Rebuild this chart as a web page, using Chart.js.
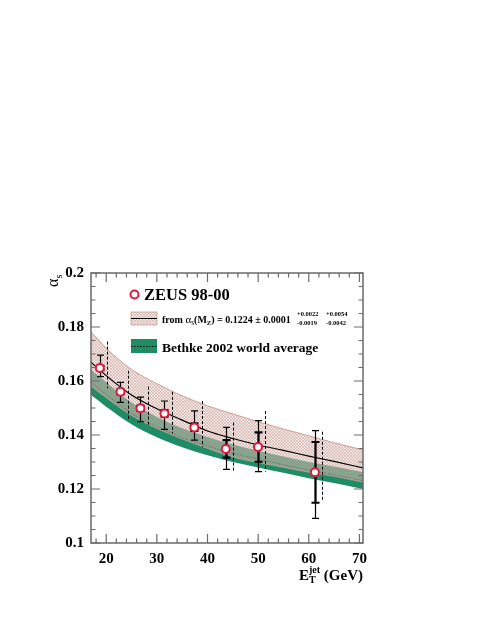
<!DOCTYPE html>
<html><head><meta charset="utf-8">
<script src="https://cdn.jsdelivr.net/npm/chart.js@4.4.1/dist/chart.umd.min.js"></script>
<style>html,body{margin:0;padding:0;background:#fff;overflow:hidden}#wrap{width:491px;height:635px;position:relative}</style>
</head><body><div id="wrap"><canvas id="c" width="491" height="635"></canvas></div>
<script>
// ---- data ----
const eT      = [18.74, 22.82, 26.76, 31.5, 37.4, 43.6, 49.97, 61.2];
const alphaS  = [0.1648, 0.1560, 0.1499, 0.1480, 0.1428, 0.1348, 0.1356, 0.1262];
const statHi  = [0.1656, 0.1569, 0.1509, 0.1492, 0.1443, 0.1381, 0.1410, 0.1374];
const statLo  = [0.1640, 0.1551, 0.1489, 0.1468, 0.1415, 0.1316, 0.1301, 0.1149];
const totHi   = [0.1696, 0.1595, 0.1540, 0.1526, 0.1489, 0.1428, 0.1453, 0.1416];
const totLo   = [0.1616, 0.1521, 0.1449, 0.1421, 0.1381, 0.1273, 0.1264, 0.1091];
const theoE   = [20.2, 24.27, 28.2, 32.9, 38.9, 45.0, 51.4, 62.7];
const theoHi  = [0.1746, 0.1638, 0.1579, 0.1560, 0.1526, 0.1446, 0.1489, 0.1412];
const theoLo  = [0.1573, 0.1456, 0.1433, 0.1406, 0.1357, 0.1264, 0.1264, 0.1156];

const curveE        = [17, 20, 25, 30, 35, 40, 45, 50, 55, 60, 65, 70.7];
const zeusCentral   = [0.1670, 0.1620, 0.1548, 0.1497, 0.1455, 0.1415, 0.1387, 0.1363, 0.1343, 0.1322, 0.1302, 0.1278];
const zeusUpper     = [0.1783, 0.1722, 0.1643, 0.1590, 0.1545, 0.1508, 0.1478, 0.1449, 0.1422, 0.1397, 0.1371, 0.1345];
const zeusLower     = [0.1580, 0.1538, 0.1472, 0.1424, 0.1385, 0.1350, 0.1318, 0.1298, 0.1280, 0.1262, 0.1247, 0.1225];
const bethkeCentral = [0.1596, 0.1550, 0.1480, 0.1430, 0.1390, 0.1359, 0.1333, 0.1311, 0.1290, 0.1270, 0.1252, 0.1231];
const bethkeUpper   = [0.1643, 0.1595, 0.1520, 0.1467, 0.1425, 0.1393, 0.1365, 0.1342, 0.1320, 0.1300, 0.1283, 0.1262];
const bethkeLower   = [0.1548, 0.1505, 0.1440, 0.1392, 0.1355, 0.1325, 0.1300, 0.1280, 0.1260, 0.1240, 0.1222, 0.1200];

const xTickValues = [20, 30, 40, 50, 60, 70];
const yTickValues = [0.1, 0.12, 0.14, 0.16, 0.18, 0.2];
const yTickLabels = ['0.1', '0.12', '0.14', '0.16', '0.18', '0.2'];

const legendZeus   = 'ZEUS 98-00';
const legendBethke = 'Bethke 2002 world average';

// ---- styles ----
const SERIF = '"Liberation Serif", "DejaVu Serif", serif';
const GREEN = 'rgb(30,140,100)';
const RED = '#e3173e';
const FRAME = '#6a6a6a';

function hatchPattern() {
  const c = document.createElement('canvas');
  c.width = 3; c.height = 3;
  const g = c.getContext('2d');
  g.fillStyle = 'rgba(232,208,202,0.5)';
  g.fillRect(0, 0, 3, 3);
  g.strokeStyle = 'rgba(172,110,100,0.45)';
  g.lineWidth = 0.6;
  g.beginPath();
  g.moveTo(0, 3); g.lineTo(3, 0);
  g.moveTo(-1.5, 1.5); g.lineTo(1.5, -1.5);
  g.moveTo(1.5, 4.5); g.lineTo(4.5, 1.5);
  g.moveTo(0, 0); g.lineTo(3, 3);
  g.moveTo(-1.5, 1.5); g.lineTo(1.5, 4.5);
  g.moveTo(1.5, -1.5); g.lineTo(4.5, 1.5);
  g.stroke();
  return g.createPattern(c, 'repeat');
}
const HATCH = hatchPattern();

const pts = (ys) => curveE.map((x, i) => ({x, y: ys[i]}));
const curveStyle = {pointRadius: 0, cubicInterpolationMode: 'monotone', fill: false};

const decor = {
  id: 'decor',
  beforeDatasetDraw(chart, args) {
    if (args.index !== 0) return;
    const ctx = chart.ctx, xs = chart.scales.x, ys = chart.scales.y;
    ctx.save();
    ctx.strokeStyle = '#000';
    ctx.lineWidth = 1;
    ctx.setLineDash([3, 2]);
    theoE.forEach((e, i) => {
      const x = Math.round(xs.getPixelForValue(e)) + 0.5;
      ctx.beginPath();
      ctx.moveTo(x, ys.getPixelForValue(theoHi[i]));
      ctx.lineTo(x, ys.getPixelForValue(theoLo[i]));
      ctx.stroke();
    });
    ctx.setLineDash([]);
    eT.forEach((e, i) => {
      const x = Math.round(xs.getPixelForValue(e)) + 0.5;
      const yh = ys.getPixelForValue(totHi[i]), yl = ys.getPixelForValue(totLo[i]);
      ctx.lineWidth = 1.2;
      ctx.beginPath();
      ctx.moveTo(x, yh); ctx.lineTo(x, yl);
      ctx.moveTo(x - 3.5, yh); ctx.lineTo(x + 3.5, yh);
      ctx.moveTo(x - 3.5, yl); ctx.lineTo(x + 3.5, yl);
      ctx.stroke();
      const sh = ys.getPixelForValue(statHi[i]), sl = ys.getPixelForValue(statLo[i]);
      ctx.lineWidth = 2.2;
      ctx.beginPath();
      ctx.moveTo(x, sh); ctx.lineTo(x, sl);
      ctx.moveTo(x - 4, sh); ctx.lineTo(x + 4, sh);
      ctx.moveTo(x - 4, sl); ctx.lineTo(x + 4, sl);
      ctx.stroke();
    });
    ctx.restore();
  },
  afterDraw(chart) {
    const ctx = chart.ctx, a = chart.chartArea, ys = chart.scales.y, xs = chart.scales.x;
    ctx.save();
    ctx.strokeStyle = FRAME;
    ctx.lineWidth = 1.5;
    ctx.strokeRect(a.left, a.top, a.right - a.left, a.bottom - a.top);
    ctx.lineWidth = 1.2;
    ctx.beginPath();
    for (let k = 0; k <= 20; k++) {
      const v = 0.1 + k * 0.005;
      const y = ys.getPixelForValue(v);
      const len = (k % 4 === 0) ? 9 : 4.5;
      ctx.moveTo(a.left, y); ctx.lineTo(a.left + len, y);
      ctx.moveTo(a.right, y); ctx.lineTo(a.right - len, y);
    }
    for (let v = 18; v <= 70; v += 2) {
      const x = xs.getPixelForValue(v);
      const len = (v % 10 === 0) ? 9 : 4.5;
      ctx.moveTo(x, a.bottom); ctx.lineTo(x, a.bottom - len);
      ctx.moveTo(x, a.top); ctx.lineTo(x, a.top + len);
    }
    ctx.stroke();

    ctx.fillStyle = '#000';
    ctx.textBaseline = 'alphabetic';
    // y title alpha_s (rotated)
    ctx.save();
    ctx.translate(58, 287);
    ctx.rotate(-Math.PI / 2);
    ctx.font = '16px ' + SERIF;
    ctx.textAlign = 'left';
    ctx.fillText('α', 0, 0);
    const aw = ctx.measureText('α').width;
    ctx.font = '10px ' + SERIF;
    ctx.fillText('s', aw, 4);
    ctx.restore();

    // x title E_T^jet (GeV)
    ctx.textAlign = 'left';
    const bigF = 'bold 15px ' + SERIF, smF = 'bold 10px ' + SERIF;
    ctx.font = bigF; const wE = ctx.measureText('E').width; const wG = ctx.measureText(' (GeV)').width;
    ctx.font = smF; const wJ = ctx.measureText('jet').width;
    let x0 = a.right - (wE + wJ + wG);
    const yb = 580;
    ctx.font = bigF; ctx.fillText('E', x0, yb);
    ctx.font = smF; ctx.fillText('jet', x0 + wE, yb - 7); ctx.fillText('T', x0 + wE, yb + 3);
    ctx.font = bigF; ctx.fillText(' (GeV)', x0 + wE + wJ, yb);

    // legend: ZEUS marker
    ctx.beginPath();
    ctx.arc(134.5, 294.5, 4, 0, Math.PI * 2);
    ctx.fillStyle = '#fff'; ctx.fill();
    ctx.strokeStyle = RED; ctx.lineWidth = 2; ctx.stroke();
    ctx.fillStyle = '#000';
    ctx.font = 'bold 16.5px ' + SERIF;
    ctx.fillText(legendZeus, 144, 300);

    // legend: ZEUS band
    ctx.fillStyle = '#fff'; ctx.fillRect(131, 312, 26, 13);
    ctx.fillStyle = HATCH; ctx.fillRect(131, 312, 26, 13);
    ctx.strokeStyle = 'rgba(205,160,150,1)'; ctx.lineWidth = 0.8;
    ctx.strokeRect(131, 312, 26, 13);
    ctx.strokeStyle = '#000'; ctx.lineWidth = 1;
    ctx.beginPath(); ctx.moveTo(131, 318.5); ctx.lineTo(157, 318.5); ctx.stroke();
    ctx.fillStyle = '#000';
    const f11 = 'bold 10px ' + SERIF, f7 = 'bold 6.5px ' + SERIF, sym11 = '11px ' + SERIF, sym7 = '7.5px ' + SERIF;
    let tx = 162; const tb = 322.5;
    const put = (s, font, dy) => { ctx.font = font; ctx.fillText(s, tx, tb + (dy || 0)); tx += ctx.measureText(s).width; };
    put('from ', f11); put('α', sym11); put('s', sym7, 2.5); put('(M', f11); put('Z', f7, 2.5); put(') = 0.1224 ± 0.0001', f11);
    ctx.font = f7;
    ctx.fillText('+0.0022', 297, 316); ctx.fillText('-0.0019', 297, 325);
    ctx.fillText('+0.0054', 326, 316); ctx.fillText('-0.0042', 326, 325);

    // legend: Bethke band
    ctx.fillStyle = GREEN; ctx.fillRect(131, 339, 26, 14);
    ctx.strokeStyle = '#000'; ctx.lineWidth = 1; ctx.setLineDash([1.5, 1.5]);
    ctx.beginPath(); ctx.moveTo(131, 346.5); ctx.lineTo(157, 346.5); ctx.stroke();
    ctx.setLineDash([]);
    ctx.fillStyle = '#000';
    ctx.font = 'bold 13.5px ' + SERIF;
    ctx.fillText(legendBethke, 162, 352);
    ctx.restore();
  }
};

new Chart(document.getElementById('c'), {
  type: 'line',
  data: {
    datasets: [
      {label: 'ZEUS 98-00', type: 'scatter', data: eT.map((x, i) => ({x, y: alphaS[i]})),
       pointRadius: 4, pointBorderWidth: 2, pointBorderColor: RED, pointBackgroundColor: '#fff', showLine: false},
      {label: 'ZEUS fit', data: pts(zeusCentral), borderColor: '#000', borderWidth: 1.2, ...curveStyle},
      {label: 'ZEUS upper', data: pts(zeusUpper), borderColor: 'rgba(205,160,150,1)', borderWidth: 1, ...curveStyle,
       fill: {target: 3}, backgroundColor: HATCH},
      {label: 'ZEUS lower', data: pts(zeusLower), borderColor: 'rgba(205,160,150,0.8)', borderWidth: 0.8, ...curveStyle},
      {label: 'Bethke', data: pts(bethkeCentral), borderColor: '#000', borderWidth: 1, borderDash: [1.5, 1.5], ...curveStyle},
      {label: 'Bethke upper', data: pts(bethkeUpper), borderColor: GREEN, borderWidth: 0, ...curveStyle,
       fill: {target: 6}, backgroundColor: GREEN},
      {label: 'Bethke lower', data: pts(bethkeLower), borderColor: GREEN, borderWidth: 0, ...curveStyle}
    ]
  },
  options: {
    responsive: false, animation: false, events: [],
    layout: {padding: {left: 0, right: 128, top: 273, bottom: 0}},
    plugins: {legend: {display: false}, tooltip: {enabled: false}},
    scales: {
      x: {type: 'linear', min: 17, max: 70.7,
          afterFit: s => { s.height = 92; },
          afterBuildTicks: s => { s.ticks = xTickValues.map(v => ({value: v})); },
          grid: {display: false, drawTicks: false}, border: {display: false},
          ticks: {color: '#000', padding: 7, font: {family: SERIF, weight: 'bold', size: 15}, maxRotation: 0,
                  callback: v => String(v)}},
      y: {type: 'linear', min: 0.1, max: 0.2,
          afterFit: s => { s.width = 91; },
          afterBuildTicks: s => { s.ticks = yTickValues.map(v => ({value: v})); },
          grid: {display: false, drawTicks: false}, border: {display: false},
          ticks: {color: '#000', padding: 7, font: {family: SERIF, weight: 'bold', size: 15},
                  callback: (v, i) => yTickLabels[i]}}
    }
  },
  plugins: [decor]
});
</script></body></html>
